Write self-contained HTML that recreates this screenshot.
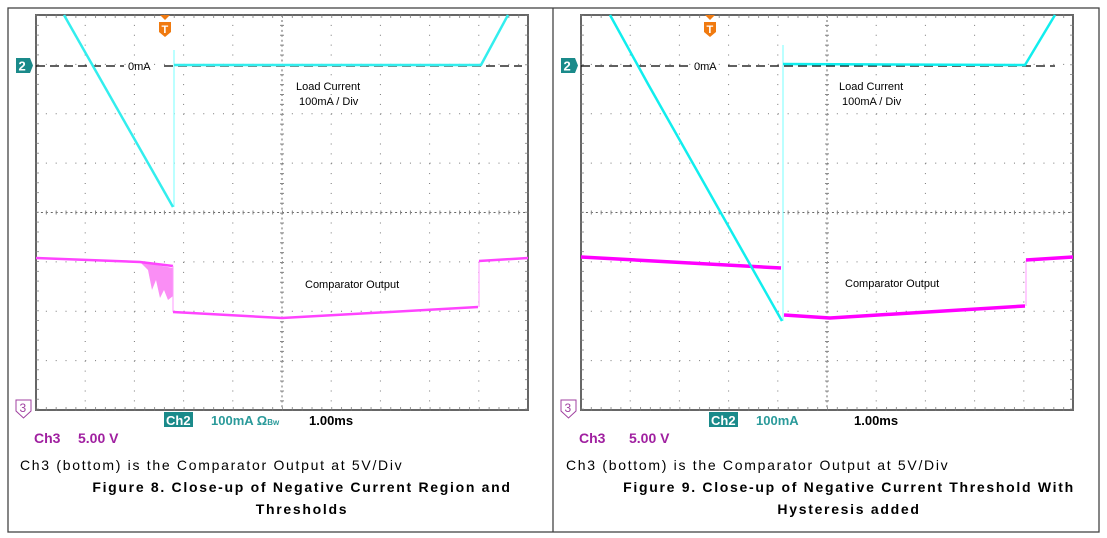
<!DOCTYPE html>
<html><head><meta charset="utf-8"><style>
html,body{margin:0;padding:0;background:#fff;width:1107px;height:538px;overflow:hidden}
svg{display:block}
text{font-family:"Liberation Sans",sans-serif}
</style></head><body>
<svg width="1107" height="538" viewBox="0 0 1107 538">
<defs>
<g id="grid">
  <rect x="0" y="0" width="492" height="395" fill="#fff" stroke="#666" stroke-width="2"/>
  <g stroke="#777" stroke-width="1" stroke-dasharray="1 8.84">
    <line x1="0" y1="49.4" x2="492" y2="49.4"/><line x1="0" y1="98.8" x2="492" y2="98.8"/>
    <line x1="0" y1="148.1" x2="492" y2="148.1"/><line x1="0" y1="246.9" x2="492" y2="246.9"/>
    <line x1="0" y1="296.3" x2="492" y2="296.3"/><line x1="0" y1="345.6" x2="492" y2="345.6"/>
  </g>
  <g stroke="#777" stroke-width="1" stroke-dasharray="1 8.88">
    <line x1="49.2" y1="0" x2="49.2" y2="395"/><line x1="98.4" y1="0" x2="98.4" y2="395"/>
    <line x1="147.6" y1="0" x2="147.6" y2="395"/><line x1="196.8" y1="0" x2="196.8" y2="395"/>
    <line x1="295.2" y1="0" x2="295.2" y2="395"/><line x1="344.4" y1="0" x2="344.4" y2="395"/>
    <line x1="393.6" y1="0" x2="393.6" y2="395"/><line x1="442.8" y1="0" x2="442.8" y2="395"/>
  </g>
  <line x1="0" y1="197.5" x2="492" y2="197.5" stroke="#666" stroke-width="1" stroke-dasharray="2 2.92"/>
  <line x1="246" y1="0" x2="246" y2="395" stroke="#666" stroke-width="1" stroke-dasharray="2 2.94"/>
  <line x1="0" y1="197.5" x2="492" y2="197.5" stroke="#888" stroke-width="4" stroke-dasharray="1 8.84"/>
  <line x1="246" y1="0" x2="246" y2="395" stroke="#888" stroke-width="4" stroke-dasharray="1 8.88"/>
  <g stroke="#999" stroke-width="4" stroke-dasharray="1 8.84">
    <line x1="0" y1="1" x2="492" y2="1"/><line x1="0" y1="394" x2="492" y2="394"/>
    <line x1="1" y1="0" x2="1" y2="395"/><line x1="491" y1="0" x2="491" y2="395"/>
  </g>
  <rect x="0" y="0" width="492" height="395" fill="none" stroke="#666" stroke-width="1.5"/>
</g>
<g id="m2"><path d="M0 0h14l3 7.5l-3 7.5h-14z" fill="#1a8a8a"/><text x="2.5" y="12.5" font-size="13" font-weight="bold" fill="#fff">2</text></g>
<g id="m3"><path d="M0 0h15v11l-7.5 7l-7.5-7z" fill="#fff" stroke="#a040a0" stroke-width="1"/><text x="3.5" y="12" font-size="12" fill="#a040a0">3</text></g>
<g id="mT"><path d="M-5 0h10l-5 5z" fill="#f07a10"/><path d="M-6 7h12v10l-6 5l-6-5z" fill="#f07a10"/><text x="-3.5" y="18" font-size="11" font-weight="bold" fill="#fff">T</text></g>
</defs>

<rect x="8" y="8" width="1091" height="524" fill="none" stroke="#444" stroke-width="1.3"/>
<line x1="553" y1="8" x2="553" y2="532" stroke="#444" stroke-width="1.3"/>

<!-- scope 1 -->
<use href="#grid" x="36" y="15"/>
<use href="#mT" x="165" y="15"/>
<use href="#m2" x="16" y="58"/>
<use href="#m3" x="16" y="400"/>
<line x1="36" y1="66" x2="124" y2="66" stroke="#000" stroke-width="1.2" stroke-dasharray="9 5"/>
<line x1="164" y1="66" x2="522" y2="66" stroke="#000" stroke-width="1.2" stroke-dasharray="9 5"/>
<text x="128" y="70" font-size="11" fill="#000">0mA</text>
<line x1="174" y1="50" x2="174" y2="207" stroke="#7ff" stroke-width="1"/>
<polyline points="64,15 173,207" fill="none" stroke="#3ee" stroke-width="2.5"/>
<polyline points="174,65 481,65 508,15" fill="none" stroke="#3ee" stroke-width="2.5"/>
<path d="M140 262 L148 270 L152 290 L156 280 L160 298 L164 290 L168 300 L173 296 L173 268 Z" fill="#fa8ef5"/>
<polyline points="36,258 140,262 173,266" fill="none" stroke="#f4f" stroke-width="2.5"/>
<line x1="173" y1="266" x2="173" y2="312" stroke="#f9f" stroke-width="1"/>
<polyline points="173,312 282,318 478,307" fill="none" stroke="#f4f" stroke-width="2.5"/>
<line x1="479" y1="307" x2="479" y2="261" stroke="#f9f" stroke-width="1"/>
<polyline points="479,261 528,258" fill="none" stroke="#f4f" stroke-width="2.5"/>
<text x="296" y="90" font-size="11">Load Current</text>
<text x="299" y="105" font-size="11">100mA / Div</text>
<text x="305" y="288" font-size="11">Comparator Output</text>
<rect x="164" y="412" width="29" height="15" fill="#1a8a8a"/>
<text x="166" y="425" font-size="13" font-weight="bold" fill="#fff">Ch2</text>
<text x="211" y="425" font-size="13" font-weight="bold" fill="#2a9a9a">100mA Ω<tspan font-size="8">Bw</tspan></text>
<text x="309" y="425" font-size="13" font-weight="bold" fill="#000">1.00ms</text>
<text x="34" y="443" font-size="14" font-weight="bold" fill="#a020a0">Ch3</text>
<text x="78" y="443" font-size="14" font-weight="bold" fill="#a020a0">5.00 V</text>
<text x="20" y="470" font-size="14" letter-spacing="1.7">Ch3 (bottom) is the Comparator Output at 5V/Div</text>
<text x="302" y="492" font-size="14" font-weight="bold" text-anchor="middle" letter-spacing="1.7">Figure 8. Close-up of Negative Current Region and</text>
<text x="302" y="514" font-size="14" font-weight="bold" text-anchor="middle" letter-spacing="1.7">Thresholds</text>

<!-- scope 2 -->
<use href="#grid" x="581" y="15"/>
<use href="#mT" x="710" y="15"/>
<use href="#m2" x="561" y="58"/>
<use href="#m3" x="561" y="400"/>
<line x1="581" y1="66" x2="690" y2="66" stroke="#000" stroke-width="1.2" stroke-dasharray="9 5"/>
<line x1="728" y1="66" x2="1055" y2="66" stroke="#000" stroke-width="1.2" stroke-dasharray="9 5"/>
<text x="694" y="70" font-size="11" fill="#000">0mA</text>
<polyline points="581,257 781,268" fill="none" stroke="#f0f" stroke-width="3.5"/>
<polyline points="784,315 830,318 1025,306" fill="none" stroke="#f0f" stroke-width="3.5"/>
<line x1="1026" y1="306" x2="1026" y2="260" stroke="#f9f" stroke-width="1"/>
<polyline points="1026,260 1073,257" fill="none" stroke="#f0f" stroke-width="3.5"/>
<line x1="783" y1="45" x2="783" y2="321" stroke="#7ff" stroke-width="1"/>
<polyline points="610,15 648,84 782,321" fill="none" stroke="#1ee" stroke-width="2.5"/>
<polyline points="783,64 1025,65 1055,15" fill="none" stroke="#1ee" stroke-width="2.5"/>
<text x="839" y="90" font-size="11">Load Current</text>
<text x="842" y="105" font-size="11">100mA / Div</text>
<text x="845" y="287" font-size="11">Comparator Output</text>
<rect x="709" y="412" width="29" height="15" fill="#1a8a8a"/>
<text x="711" y="425" font-size="13" font-weight="bold" fill="#fff">Ch2</text>
<text x="756" y="425" font-size="13" font-weight="bold" fill="#2a9a9a">100mA</text>
<text x="854" y="425" font-size="13" font-weight="bold" fill="#000">1.00ms</text>
<text x="579" y="443" font-size="14" font-weight="bold" fill="#a020a0">Ch3</text>
<text x="629" y="443" font-size="14" font-weight="bold" fill="#a020a0">5.00 V</text>
<text x="566" y="470" font-size="14" letter-spacing="1.7">Ch3 (bottom) is the Comparator Output at 5V/Div</text>
<text x="849" y="492" font-size="14" font-weight="bold" text-anchor="middle" letter-spacing="1.7">Figure 9. Close-up of Negative Current Threshold With</text>
<text x="849" y="514" font-size="14" font-weight="bold" text-anchor="middle" letter-spacing="1.7">Hysteresis added</text>
</svg>
</body></html>
